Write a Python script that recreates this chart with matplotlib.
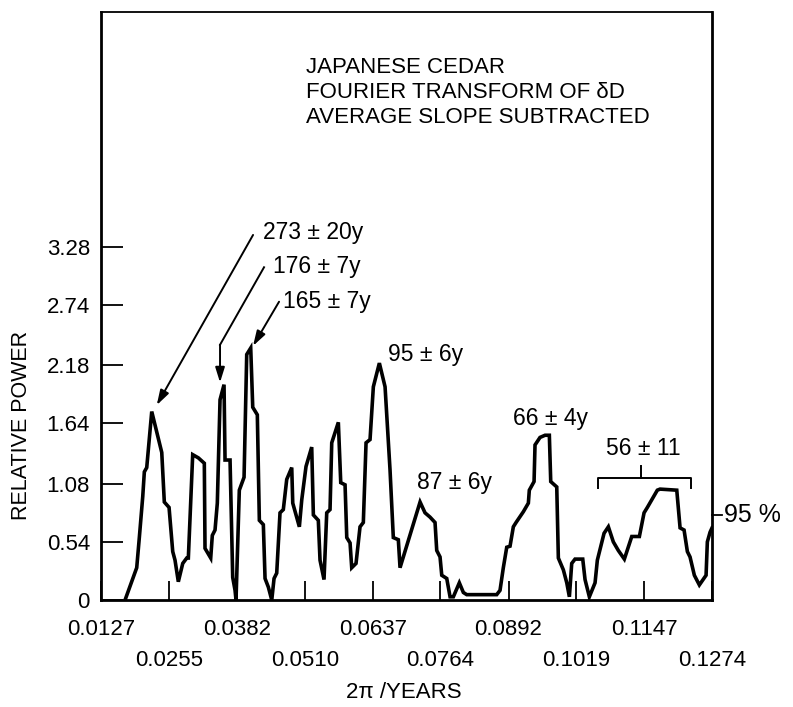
import matplotlib.pyplot as plt
from matplotlib.transforms import blended_transform_factory

# spectrum (2pi/years, relative power)
freq = [0.01721, 0.01940, 0.01989, 0.02053, 0.02083, 0.02128, 0.02222, 0.02410, 0.02458, 0.02547,
        0.02616, 0.02659, 0.02721, 0.02804, 0.02879, 0.02909, 0.02991, 0.03097, 0.03209, 0.03222,
        0.03329, 0.03359, 0.03410, 0.03453, 0.03504, 0.03579, 0.03598, 0.03692, 0.03742, 0.03786,
        0.03804, 0.03866, 0.03955, 0.04005, 0.04080, 0.04118, 0.04204, 0.04242, 0.04317, 0.04349,
        0.04411, 0.04475, 0.04518, 0.04568, 0.04630, 0.04692, 0.04756, 0.04850, 0.04869, 0.04993,
        0.05038, 0.05118, 0.05225, 0.05256, 0.05349, 0.05381, 0.05456, 0.05507, 0.05569, 0.05601,
        0.05725, 0.05770, 0.05851, 0.05883, 0.05945, 0.05976, 0.06057, 0.06132, 0.06194, 0.06245,
        0.06320, 0.06382, 0.06495, 0.06602, 0.06695, 0.06757, 0.06851, 0.06883, 0.07259, 0.07352,
        0.07446, 0.07540, 0.07572, 0.07634, 0.07666, 0.07760, 0.07822, 0.07884, 0.07996, 0.08072,
        0.08135, 0.08698, 0.08760, 0.08822, 0.08886, 0.08948, 0.09010, 0.09061, 0.09198, 0.09292,
        0.09310, 0.09399, 0.09417, 0.09511, 0.09605, 0.09686, 0.09712, 0.09825, 0.09855, 0.09949,
        0.10013, 0.10062, 0.10106, 0.10168, 0.10313, 0.10356, 0.10437, 0.10544, 0.10587, 0.10713,
        0.10794, 0.10887, 0.10981, 0.11094, 0.11233, 0.11376, 0.11464, 0.11526, 0.11713, 0.11764,
        0.12078, 0.12140, 0.12215, 0.12277, 0.12327, 0.12408, 0.12502, 0.12628, 0.12652, 0.12703,
        0.12740]
power = [0.00, 0.30, 0.58, 0.96, 1.19, 1.23, 1.75, 1.37, 0.91, 0.86,
         0.45, 0.37, 0.17, 0.34, 0.39, 0.39, 1.35, 1.32, 1.27, 0.48,
         0.39, 0.60, 0.65, 0.90, 1.86, 2.00, 1.30, 1.30, 0.21, 0.09,
         0.00, 1.02, 1.14, 2.28, 2.34, 1.79, 1.72, 0.74, 0.70, 0.20,
         0.12, 0.00, 0.20, 0.25, 0.81, 0.84, 1.12, 1.23, 0.90, 0.68,
         0.93, 1.24, 1.42, 0.79, 0.74, 0.37, 0.19, 0.81, 0.84, 1.46,
         1.65, 1.09, 1.07, 0.58, 0.53, 0.30, 0.34, 0.68, 0.72, 1.46,
         1.49, 1.98, 2.20, 1.98, 1.21, 0.58, 0.56, 0.30, 0.91, 0.81,
         0.77, 0.72, 0.46, 0.40, 0.23, 0.20, 0.03, 0.03, 0.16, 0.07,
         0.05, 0.05, 0.09, 0.30, 0.49, 0.50, 0.68, 0.72, 0.82, 0.90,
         1.02, 1.10, 1.44, 1.51, 1.53, 1.53, 1.10, 1.05, 0.39, 0.28,
         0.16, 0.03, 0.34, 0.38, 0.38, 0.19, 0.03, 0.16, 0.37, 0.62,
         0.68, 0.54, 0.46, 0.38, 0.59, 0.59, 0.81, 0.86, 1.02, 1.03,
         1.02, 0.67, 0.65, 0.45, 0.40, 0.23, 0.14, 0.23, 0.54, 0.63,
         0.67]

xticks = [0.0127, 0.0255, 0.0382, 0.0510, 0.0637, 0.0764, 0.0892, 0.1019, 0.1147, 0.1274]
xlabels = ['0.0127', '0.0255', '0.0382', '0.0510', '0.0637', '0.0764', '0.0892', '0.1019', '0.1147', '0.1274']
yticks = [0, 0.54, 1.08, 1.64, 2.18, 2.74, 3.28]
ylabels = ['0', '0.54', '1.08', '1.64', '2.18', '2.74', '3.28']
level_95 = 0.79

plt.rcParams['font.family'] = ['Liberation Sans', 'DejaVu Sans']

fig = plt.figure(figsize=(7.93, 7.07), dpi=100)
ax = fig.add_axes([0.1274, 0.1513, 0.7705, 0.8317])

ax.plot(freq, power, color='black', lw=2.6, solid_joinstyle='miter')
ax.set_xlim(0.0127, 0.1274)
ax.set_ylim(0, 5.46)

for s in ax.spines.values():
    s.set_linewidth(2.0)
ax.spines['top'].set_linewidth(1.3)

# two rows of x labels
ax.set_xticks(xticks[0::2])
ax.set_xticklabels(xlabels[0::2], fontsize=16)
ax.set_xticks(xticks[1::2], minor=True)
ax.set_xticklabels(xlabels[1::2], minor=True, fontsize=16)
ax.tick_params(axis='x', which='both', direction='in', length=14, width=1.3)
ax.tick_params(axis='x', which='major', pad=14)
ax.tick_params(axis='x', which='minor', pad=36)

ax.set_yticks(yticks)
ax.set_yticklabels(ylabels, fontsize=16)
ax.tick_params(axis='y', direction='in', length=16, width=1.3, pad=8)

fig.text(22/793, 1-425/707, 'RELATIVE POWER', rotation=90, ha='center', va='center', fontsize=15.5)
fig.text(404/793, 1-693/707, '2π /YEARS', ha='center', va='center', fontsize=16)

# title block
ax.text(0.335, 0.905, 'JAPANESE CEDAR', transform=ax.transAxes, fontsize=16, va='center')
ax.text(0.335, 0.863, 'FOURIER TRANSFORM OF δD', transform=ax.transAxes, fontsize=16, va='center')
ax.text(0.335, 0.821, 'AVERAGE SLOPE SUBTRACTED', transform=ax.transAxes, fontsize=16, va='center')

# peak labels
afs = 16.5
ax.text(0.0431, 3.41, '273 ± 20y', fontsize=afs, va='center')
ax.text(0.04493, 3.10, '176 ± 7y', fontsize=afs, va='center')
ax.text(0.04687, 2.77, '165 ± 7y', fontsize=afs, va='center')
ax.text(0.06658, 2.28, '95 ± 6y', fontsize=afs, va='center')
ax.text(0.07202, 1.09, '87 ± 6y', fontsize=afs, va='center')
ax.text(0.09005, 1.69, '66 ± 4y', fontsize=afs, va='center')
ax.text(0.1075, 1.41, '56 ± 11', fontsize=afs, va='center')

arr = dict(arrowstyle='-|>,head_length=0.9,head_width=0.28', color='black', lw=1.4, shrinkA=0, shrinkB=0)
ax.annotate('', xy=(0.02316, 1.81), xytext=(0.04124, 3.39), arrowprops=arr)
ax.plot([0.0433, 0.03504], [3.09, 2.37], color='black', lw=1.4)
ax.annotate('', xy=(0.03504, 2.02), xytext=(0.03504, 2.37), arrowprops=arr)
ax.annotate('', xy=(0.04124, 2.36), xytext=(0.04612, 2.77), arrowprops=arr)

# bracket over the 56 y band
ax.plot([0.1060, 0.1060, 0.12346, 0.12346], [1.04, 1.13, 1.13, 1.04], color='black', lw=1.4)
ax.plot([0.11407, 0.11407], [1.13, 1.24], color='black', lw=1.4)

# 95 % level on the right edge
tr = blended_transform_factory(ax.transAxes, ax.transData)
ax.plot([1.0, 1.017], [level_95, level_95], color='black', lw=1.3, transform=tr, clip_on=False)
ax.text(1.02, level_95, '95 %', transform=tr, fontsize=18, va='center')

fig.savefig('out.png', dpi=100)
